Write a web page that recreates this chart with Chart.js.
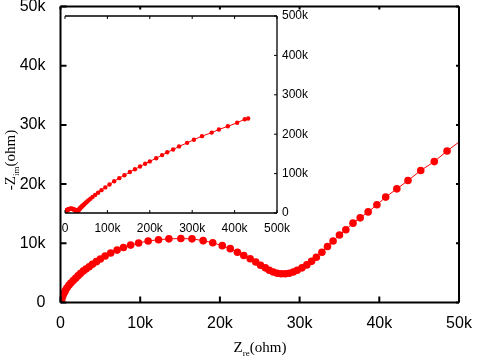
<!DOCTYPE html>
<html>
<head>
<meta charset="utf-8">
<script src="https://cdn.jsdelivr.net/npm/chart.js@4.4.1/dist/chart.umd.min.js"></script>
<style>
html, body { margin: 0; padding: 0; background: #fff; }
#wrap { position: relative; width: 478px; height: 356px; }
#wrap canvas { position: absolute; left: 0; top: 0; }
</style>
</head>
<body>
<div id="wrap">
    <canvas id="main" width="478" height="356" style="width:478px;height:356px"></canvas>
    <canvas id="inset" width="478" height="356" style="width:478px;height:356px"></canvas>
</div>
<script>
// Impedance spectrum (Nyquist), in ohm
const zRe = [
    50, 120, 200, 300, 450, 600, 800, 1050, 1300, 1600,
    1900, 2200, 2500, 2850, 3200, 3600, 4000, 4500, 5000, 5600,
    6300, 7100, 7900, 8800, 9800, 11000, 12300, 13600, 15100, 16500,
    17900, 19100, 20300, 21300, 22200, 23000, 23800, 24500, 25100, 25700,
    26200, 26700, 27200, 27700, 28200, 28700, 29200, 29700, 30300, 30900,
    31500, 32100, 32800, 33500, 34200, 35000, 35800, 36700, 37600, 38600,
    39700, 40800, 42200, 43600, 45200, 46900, 48500, 50500, 53000, 56000,
    60000, 65000, 71000, 78000, 86000, 95000, 105000, 116000, 128000, 140000,
    153000, 165000, 177000, 189000, 200000, 215000, 229000, 241000, 255000, 269000,
    288000, 304000, 323000, 346000, 363000, 384000, 406000, 424000, 432000
];
const zIm = [
    50, 400, 800, 1200, 1600, 2000, 2450, 2900, 3300, 3700,
    4100, 4500, 4900, 5300, 5650, 6050, 6450, 6900, 7350, 7850,
    8350, 8850, 9300, 9700, 10050, 10400, 10600, 10750, 10800, 10750,
    10450, 10100, 9600, 9100, 8500, 7950, 7400, 6850, 6300, 5850,
    5450, 5150, 4950, 4850, 4850, 4950, 5150, 5450, 5850, 6350,
    6950, 7650, 8500, 9450, 10400, 11400, 12300, 13400, 14300, 15300,
    16500, 17800, 19200, 20600, 22300, 23800, 25600, 27600, 30000, 32800,
    36300, 40500, 45500, 51500, 58000, 65000, 72500, 80500, 88500, 96000,
    104000, 111000, 118000, 125000, 131000, 139000, 147000, 154000, 161000, 169000,
    178000, 186000, 195000, 204000, 212000, 220000, 229000, 238000, 240000
];

const mainTicks = [0, 10000, 20000, 30000, 40000, 50000];
const mainTickLabels = ['0', '10k', '20k', '30k', '40k', '50k'];
const insetTicks = [0, 100000, 200000, 300000, 400000, 500000];
const insetTickLabels = ['0', '100k', '200k', '300k', '400k', '500k'];

const points = zRe.map((x, i) => ({ x: x, y: zIm[i] }));

// Inward tick marks and frame lines
const frameTicks = {
    id: 'frameTicks',
    afterDatasetsDraw(chart, args, opts) {
        const ctx = chart.ctx;
        const a = chart.chartArea;
        const xs = chart.scales.x;
        const ys = chart.scales.y;
        ctx.save();
        ctx.strokeStyle = '#000';
        ctx.lineWidth = opts.width;
        ctx.beginPath();
        ctx.moveTo(a.left, a.bottom);
        ctx.lineTo(a.right, a.bottom);
        ctx.moveTo(a.left, a.top);
        ctx.lineTo(a.right, a.top);
        ctx.moveTo(a.right, a.top);
        ctx.lineTo(a.right, a.bottom);
        if (opts.left) {
            ctx.moveTo(a.left, a.top);
            ctx.lineTo(a.left, a.bottom);
        }
        ctx.stroke();

        ctx.lineWidth = opts.tickWidth;
        ctx.beginPath();
        xs.ticks.forEach(t => {
            const px = xs.getPixelForValue(t.value);
            ctx.moveTo(px, a.bottom);
            ctx.lineTo(px, a.bottom - opts.len);
            ctx.moveTo(px, a.top);
            ctx.lineTo(px, a.top + opts.mirrorLen);
        });
        ys.ticks.forEach(t => {
            const py = ys.getPixelForValue(t.value);
            if (opts.left) {
                ctx.moveTo(a.left, py);
                ctx.lineTo(a.left + opts.len, py);
                ctx.moveTo(a.right, py);
                ctx.lineTo(a.right - opts.mirrorLen, py);
            } else {
                ctx.moveTo(a.right, py);
                ctx.lineTo(a.right - opts.len, py);
            }
        });
        ctx.stroke();
        ctx.restore();
    }
};

// Axis titles with subscripts
function drawTitle(ctx, parts, cx, cy) {
    let total = 0;
    parts.forEach(p => {
        ctx.font = p.sub ? '9px "Liberation Serif"' : '15px "Liberation Serif"';
        p.w = ctx.measureText(p.text).width;
        total += p.w;
    });
    let x = cx - total / 2;
    parts.forEach(p => {
        ctx.font = p.sub ? '9px "Liberation Serif"' : '15px "Liberation Serif"';
        ctx.fillText(p.text, x, cy + (p.sub ? 4 : 0));
        x += p.w;
    });
}

const axisTitles = {
    id: 'axisTitles',
    afterDraw(chart) {
        const ctx = chart.ctx;
        ctx.save();
        ctx.fillStyle = '#000';
        ctx.textBaseline = 'alphabetic';
        ctx.textAlign = 'left';
        drawTitle(ctx, [{ text: 'Z' }, { text: 're', sub: true }, { text: '(ohm)' }], 260, 352);
        ctx.translate(15, 160);
        ctx.rotate(-Math.PI / 2);
        drawTitle(ctx, [{ text: '-Z' }, { text: 'im', sub: true }, { text: '(ohm)' }], 0, 0);
        ctx.restore();
    }
};

function fixAxis(size, vertical) {
    return function (scale) {
        if (vertical) scale.width = size; else scale.height = size;
        scale.paddingTop = 0;
        scale.paddingBottom = 0;
        scale.paddingLeft = 0;
        scale.paddingRight = 0;
    };
}

function setTicks(values) {
    return function (scale) {
        scale.ticks = values.map(v => ({ value: v }));
    };
}

function labelFor(values, labels) {
    return function (value) {
        const i = values.indexOf(value);
        return i >= 0 ? labels[i] : '';
    };
}

new Chart(document.getElementById('main'), {
    type: 'line',
    data: {
        datasets: [{
            data: points,
            borderColor: '#ff0000',
            backgroundColor: '#ff0000',
            borderWidth: 1,
            pointRadius: 3.8,
            pointBorderWidth: 0,
            tension: 0,
            clip: 0
        }]
    },
    options: {
        responsive: false,
        animation: false,
        events: [],
        layout: { padding: { left: 0, top: 6.5, right: 19, bottom: 0 } },
        scales: {
            x: {
                type: 'linear',
                min: 0,
                max: 50000,
                afterBuildTicks: setTicks(mainTicks),
                afterFit: fixAxis(53.5, false),
                grid: { display: false },
                border: { display: false },
                ticks: {
                    callback: labelFor(mainTicks, mainTickLabels),
                    color: '#000',
                    font: { family: '"Liberation Sans"', size: 16 },
                    padding: 3,
                    maxRotation: 0,
                    autoSkip: false
                }
            },
            y: {
                type: 'linear',
                min: 0,
                max: 50000,
                afterBuildTicks: setTicks(mainTicks),
                afterFit: fixAxis(60.5, true),
                grid: { display: false },
                border: { display: false },
                ticks: {
                    callback: labelFor(mainTicks, mainTickLabels),
                    color: '#000',
                    font: { family: '"Liberation Sans"', size: 16 },
                    padding: 7,
                    autoSkip: false
                }
            }
        },
        plugins: {
            legend: { display: false },
            tooltip: { enabled: false },
            frameTicks: { width: 2, tickWidth: 2, len: 6, mirrorLen: 3, left: true }
        }
    },
    plugins: [frameTicks, axisTitles]
});

new Chart(document.getElementById('inset'), {
    type: 'line',
    data: {
        datasets: [{
            data: points,
            borderColor: '#ff0000',
            backgroundColor: '#ff0000',
            borderWidth: 1,
            pointRadius: 2.2,
            pointBorderWidth: 0,
            tension: 0
        }]
    },
    options: {
        responsive: false,
        animation: false,
        events: [],
        layout: { padding: { left: 65, top: 16, right: 161, bottom: 123 } },
        scales: {
            x: {
                type: 'linear',
                min: 0,
                max: 500000,
                afterBuildTicks: setTicks(insetTicks),
                afterFit: fixAxis(20, false),
                grid: { display: false },
                border: { display: false },
                ticks: {
                    callback: labelFor(insetTicks, insetTickLabels),
                    color: '#000',
                    font: { family: '"Liberation Sans"', size: 12 },
                    padding: 0,
                    maxRotation: 0,
                    autoSkip: false
                }
            },
            y: {
                type: 'linear',
                position: 'right',
                min: 0,
                max: 500000,
                afterBuildTicks: setTicks(insetTicks),
                afterFit: fixAxis(40, true),
                grid: { display: false },
                border: { display: false },
                ticks: {
                    callback: labelFor(insetTicks, insetTickLabels),
                    color: '#000',
                    font: { family: '"Liberation Sans"', size: 12 },
                    padding: -3,
                    autoSkip: false
                }
            }
        },
        plugins: {
            legend: { display: false },
            tooltip: { enabled: false },
            frameTicks: { width: 1.3, tickWidth: 1, len: 3, mirrorLen: 3, left: false }
        }
    },
    plugins: [frameTicks]
});
</script>
</body>
</html>
